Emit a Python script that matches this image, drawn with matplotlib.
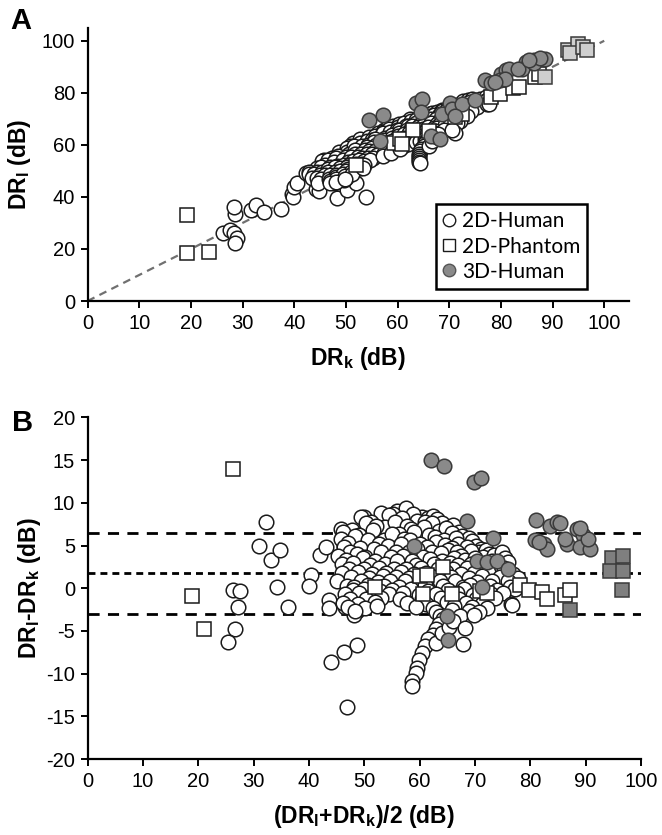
import matplotlib
matplotlib.use("Agg")
import matplotlib.pyplot as plt
import numpy as np
from matplotlib.lines import Line2D

plt.rcParams['font.family'] = ['Liberation Sans', 'DejaVu Sans']
plt.rcParams['mathtext.fontset'] = 'custom'
plt.rcParams['mathtext.rm'] = 'Liberation Sans'
plt.rcParams['mathtext.bf'] = 'Liberation Sans:bold'
plt.rcParams['mathtext.it'] = 'Liberation Sans:italic'
plt.rcParams['axes.unicode_minus'] = False

# ---------------- data, read as (mean, difference) pairs from panel B ----------------
# 2D-Human: mean (DRl+DRk)/2 and difference DRl-DRk
human_pts = [
    (26.2, -0.2), (27.5, -0.3), (27.2, -2.2), (26.6, -4.8), (25.3, -6.3),
    (31.0, 5.0), (32.2, 7.8), (33.2, 3.3), (34.8, 4.5), (34.2, 0.1), (36.3, -2.2),
    (40.3, 1.5), (40.0, 0.3), (42.0, 3.9), (43.0, 4.8), (43.6, -1.4), (43.6, -2.3),
    (43.9, -8.6), (46.4, -7.5), (48.6, -6.7), (46.9, -13.9), (45.8, 6.9), (46.3, 6.1),
    (46.3, 5.0), (46.6, -2.2), (48.6, -2.7), (48.1, -3.1), (49.9, 8.4),
    # dense cluster
    (53.0, 8.8), (56.0, 9.1), (57.5, 9.4), (55.2, 8.7),
    (49.5, 8.3), (54.5, 8.6), (60.5, 8.4), (61.5, 8.2), (62.5, 8.5), (58.8, 8.7),
    (51.2, 7.8), (56.8, 8.2), (59.5, 7.9), (63.2, 8.1), (64.1, 7.6), (61.0, 7.8),
    (50.3, 7.7), (53.8, 7.2), (55.5, 7.8), (57.7, 7.3), (62.2, 7.6), (65.0, 7.1), (66.1, 7.4),
    (47.8, 6.8), (52.2, 7.3), (58.5, 6.9), (60.8, 7.2), (63.5, 6.7), (64.8, 7.0), (67.2, 6.6),
    (46.2, 6.6), (49.0, 6.2), (51.5, 6.8), (56.3, 6.3), (59.0, 6.6), (61.7, 6.2), (65.8, 6.5),
    (67.7, 6.1), (69.0, 5.9),
    (45.8, 5.8), (48.3, 6.1), (53.5, 5.7), (55.0, 6.3), (57.2, 5.8), (62.8, 6.0), (64.4, 5.6),
    (66.6, 5.9), (69.5, 5.5),
    (47.0, 5.3), (50.6, 5.6), (52.7, 5.2), (58.2, 5.7), (60.1, 5.2), (63.0, 5.4), (67.0, 5.2),
    (70.2, 5.0), (71.0, 4.6),
    (46.3, 4.8), (49.2, 4.7), (54.2, 4.9), (56.7, 5.2), (61.4, 4.8), (64.6, 5.1), (65.9, 4.7),
    (68.6, 4.8), (70.8, 4.2), (72.0, 4.5),
    (47.5, 4.3), (51.8, 4.6), (55.8, 4.3), (58.0, 4.2), (59.6, 4.6), (62.3, 4.2), (65.1, 4.5),
    (66.8, 4.3), (69.3, 4.4), (72.6, 4.0),
    (45.3, 3.8), (48.6, 4.0), (50.2, 3.7), (53.1, 4.2), (57.0, 3.8), (60.7, 3.7), (63.8, 4.1),
    (67.5, 3.8), (71.5, 3.7), (73.5, 3.9), (74.8, 4.2),
    (46.7, 3.3), (49.7, 3.5), (52.0, 3.2), (54.8, 3.7), (58.7, 3.2), (61.8, 3.4), (64.0, 3.2),
    (66.3, 3.6), (68.2, 3.3), (70.0, 3.6), (73.0, 3.2), (75.5, 3.6),
    (45.9, 2.8), (48.0, 2.9), (51.0, 2.7), (53.8, 2.8), (56.0, 3.2), (59.3, 2.7), (62.6, 2.8),
    (65.4, 2.9), (67.0, 2.7), (69.2, 2.8), (71.8, 2.9), (74.2, 2.7), (76.0, 3.1),
    (47.2, 2.3), (50.0, 2.2), (52.6, 2.4), (55.3, 2.3), (57.6, 2.2), (60.2, 2.4), (63.3, 2.3),
    (66.0, 2.2), (68.6, 2.4), (70.6, 2.3), (73.8, 2.2), (75.2, 2.4),
    (46.0, 1.8), (48.8, 1.9), (51.4, 1.7), (54.0, 1.8), (56.6, 1.9), (58.9, 1.7), (61.1, 1.8),
    (64.7, 1.9), (67.4, 1.7), (69.8, 1.8), (72.4, 1.9), (76.8, 1.7),
    (47.6, 1.3), (50.8, 1.2), (53.3, 1.4), (55.7, 1.3), (58.1, 1.2), (62.0, 1.4), (65.6, 1.3),
    (68.9, 1.2), (71.2, 1.4), (74.5, 1.3), (77.7, 1.2),
    (45.0, 0.8), (49.4, 0.9), (52.4, 0.7), (54.6, 0.8), (57.3, 0.9), (59.8, 0.7), (63.6, 0.8),
    (66.4, 0.9), (70.4, 0.7), (73.1, 0.8), (75.9, 0.9),
    (46.8, 0.3), (48.2, 0.2), (50.7, 0.4), (53.6, 0.3), (56.2, 0.2), (60.9, 0.4), (64.3, 0.3),
    (67.8, 0.2), (69.1, 0.4), (72.8, 0.3), (76.4, 0.2),
    (47.9, -0.2), (49.9, -0.1), (52.9, -0.3), (55.1, -0.2), (58.4, -0.1), (61.5, -0.3),
    (65.2, -0.2), (68.1, -0.1), (71.6, -0.3), (74.0, -0.2), (77.2, -0.1),
    (46.5, -0.7), (49.1, -0.6), (51.6, -0.8), (54.4, -0.7), (57.0, -0.6), (59.9, -0.8),
    (62.9, -0.7), (66.7, -0.6), (69.6, -0.8), (72.9, -0.7), (75.0, -0.6),
    (47.4, -1.2), (50.4, -1.3), (53.0, -1.1), (56.5, -1.2), (60.4, -1.3), (63.9, -1.1),
    (67.1, -1.2), (70.1, -1.3), (73.6, -1.1),
    (46.1, -1.7), (48.9, -1.8), (51.9, -1.6), (57.8, -1.7), (61.2, -1.8), (64.9, -1.6),
    (68.4, -1.7), (71.3, -1.8), (76.5, -1.8),
    (47.0, -2.2), (50.1, -2.3), (52.3, -2.1), (59.4, -2.2), (62.4, -2.3), (66.2, -2.1),
    (69.5, -2.2), (72.2, -2.3), (76.7, -2.0),
    (48.4, -2.7), (63.0, -2.8), (65.8, -2.6), (68.9, -2.7), (70.7, -2.8),
    (63.7, -3.2), (67.3, -3.3), (69.9, -3.1),
    # downward tail
    (64.2, -3.6), (63.5, -4.2), (63.0, -4.8), (62.4, -5.5), (61.6, -6.0), (61.0, -6.8),
    (60.4, -7.6), (59.9, -8.4), (59.6, -9.3), (59.3, -9.9), (58.7, -10.9), (58.6, -11.4),
    (62.9, -6.4), (64.0, -5.2), (65.3, -4.5), (66.0, -3.8), (67.8, -6.5), (68.2, -4.6),
]

phantom_pts = [
    (18.9, -0.85), (21.1, -4.8), (26.2, 14.0), (52.0, 0.2), (60.1, 1.4), (61.3, 1.6),
    (64.3, 2.5), (60.6, -0.65), (65.8, -0.65), (70.9, -0.3), (72.2, -0.6), (78.2, 0.4),
    (79.8, -0.2), (82.1, -0.4), (83.0, -1.2), (86.3, -0.8), (87.2, -0.2),
]

human3d_pts = [
    (62.0, 15.0), (64.4, 14.3), (69.9, 12.5), (71.1, 12.9), (68.5, 7.9), (73.2, 5.9),
    (59.0, 4.9), (70.3, 3.2), (72.1, 3.1), (74.0, 3.2), (76.0, 2.2), (71.2, 0.1),
    (64.9, -3.3), (65.2, -6.1),
    (81.0, 8.0), (83.6, 7.3), (84.8, 7.8), (85.4, 7.6), (88.4, 6.9), (89.6, 6.2),
    (80.9, 5.6), (82.4, 5.2), (83.1, 4.6), (86.7, 5.2), (88.9, 4.8), (90.8, 4.6),
    (90.5, 5.8), (81.6, 5.4), (86.3, 5.8), (89.0, 7.0),
]

phantom3d_pts = [
    (94.7, 3.6), (96.8, 3.8), (94.4, 2.0), (96.8, 2.0), (96.5, -0.2), (87.2, -2.6),
]

upper_loa = 6.5
mean_bias = 1.8
lower_loa = -3.0

A_xticks = [0, 10, 20, 30, 40, 50, 60, 70, 80, 90, 100]
A_yticks = [0, 20, 40, 60, 80, 100]
B_xticks = [0, 10, 20, 30, 40, 50, 60, 70, 80, 90, 100]
B_yticks = [-20, -15, -10, -5, 0, 5, 10, 15, 20]
legend_labels = ['2D-Human', '2D-Phantom', '3D-Human']


def split(pts):
    arr = np.array(pts, dtype=float)
    m, d = arr[:, 0], arr[:, 1]
    return m, d, m - d / 2.0, m + d / 2.0   # mean, diff, DRk, DRl


hm, hd, hk, hl = split(human_pts)
pm, pd_, pk, pl = split(phantom_pts)
gm, gd, gk, gl = split(human3d_pts)
qm, qd, qk, ql = split(phantom3d_pts)

fig = plt.figure(figsize=(6.62, 8.35), dpi=100)
axA = fig.add_axes([0.1322, 0.6395, 0.8172, 0.3266])
axB = fig.add_axes([0.1322, 0.0910, 0.8361, 0.4090])

MS = 10.5
MEW = 1.1
EC = '#1a1a1a'
GRAY = '#8a8a8a'

def style(ax):
    for s in ['top', 'right']:
        ax.spines[s].set_visible(False)
    for s in ['left', 'bottom']:
        ax.spines[s].set_linewidth(1.6)
    ax.tick_params(direction='out', length=5, width=1.4, labelsize=14.5, pad=4)

# ---- Panel A ----
axA.plot([0, 100], [0, 100], color='#707070', lw=1.6, ls=(0, (3.5, 2.5)), zorder=1)
axA.plot(hk, hl, 'o', ms=MS, mfc='white', mec=EC, mew=MEW, zorder=2)
axA.plot(pk, pl, 's', ms=MS, mfc='white', mec=EC, mew=MEW, zorder=3)
axA.plot(gk, gl, 'o', ms=MS, mfc=GRAY, mec='#3a3a3a', mew=MEW, zorder=4)
axA.plot(qk, ql, 's', ms=MS, mfc='#cfcfcf', mec='#3a3a3a', mew=MEW, zorder=5)
axA.set_xlim(0, 104.7)
axA.set_ylim(0, 104.8)
axA.set_xticks(A_xticks)
axA.set_yticks(A_yticks)
style(axA)
axA.set_xlabel(r'$\mathbf{DR_k}$ (dB)', fontsize=16.5, fontweight='bold', labelpad=9)
axA.set_ylabel(r'$\mathbf{DR_l}$ (dB)', fontsize=16.5, fontweight='bold', labelpad=6)

handles = [
    Line2D([], [], ls='none', marker='o', ms=9, mfc='white', mec=EC, mew=1.0),
    Line2D([], [], ls='none', marker='s', ms=9, mfc='white', mec=EC, mew=1.0),
    Line2D([], [], ls='none', marker='o', ms=9, mfc=GRAY, mec='#555555', mew=1.0),
]
leg = axA.legend(handles, legend_labels, loc='lower right', bbox_to_anchor=(0.924, 0.044),
                 frameon=True, fancybox=False, edgecolor='black', framealpha=1,
                 prop={'family': 'Lato', 'size': 15}, handlelength=0.6, handletextpad=0.3,
                 labelspacing=0.25, borderpad=0.35, borderaxespad=0)
leg.get_frame().set_linewidth(1.8)

# ---- Panel B ----
axB.plot([0, 100], [upper_loa, upper_loa], color='black', lw=2.0, ls=(0, (4, 3)), zorder=1)
axB.plot([0, 100], [lower_loa, lower_loa], color='black', lw=2.0, ls=(0, (4, 3)), zorder=1)
axB.plot([0, 100], [mean_bias, mean_bias], color='black', lw=2.0, ls=(0, (2.5, 1.8)), zorder=1)
axB.plot(hm, hd, 'o', ms=MS, mfc='white', mec=EC, mew=MEW, zorder=2)
axB.plot(pm, pd_, 's', ms=MS, mfc='white', mec=EC, mew=MEW, zorder=3)
axB.plot(gm, gd, 'o', ms=MS, mfc=GRAY, mec='#3a3a3a', mew=MEW, zorder=4)
axB.plot(qm, qd, 's', ms=MS, mfc='#7f7f7f', mec='#3a3a3a', mew=MEW, zorder=5)
axB.set_xlim(0, 100)
axB.set_ylim(-20, 20)
axB.set_xticks(B_xticks)
axB.set_yticks(B_yticks)
style(axB)
axB.set_xlabel(r'($\mathbf{DR_l}$+$\mathbf{DR_k}$)/2 (dB)', fontsize=16.5, fontweight='bold', labelpad=9)
axB.set_ylabel(r'$\mathbf{DR_l}$-$\mathbf{DR_k}$ (dB)', fontsize=16.5, fontweight='bold', labelpad=2)

fig.text(0.015, 0.992, 'A', fontsize=21, fontweight='bold', va='top', ha='left')
fig.text(0.018, 0.510, 'B', fontsize=21, fontweight='bold', va='top', ha='left')

fig.savefig('out.png', dpi=100)
